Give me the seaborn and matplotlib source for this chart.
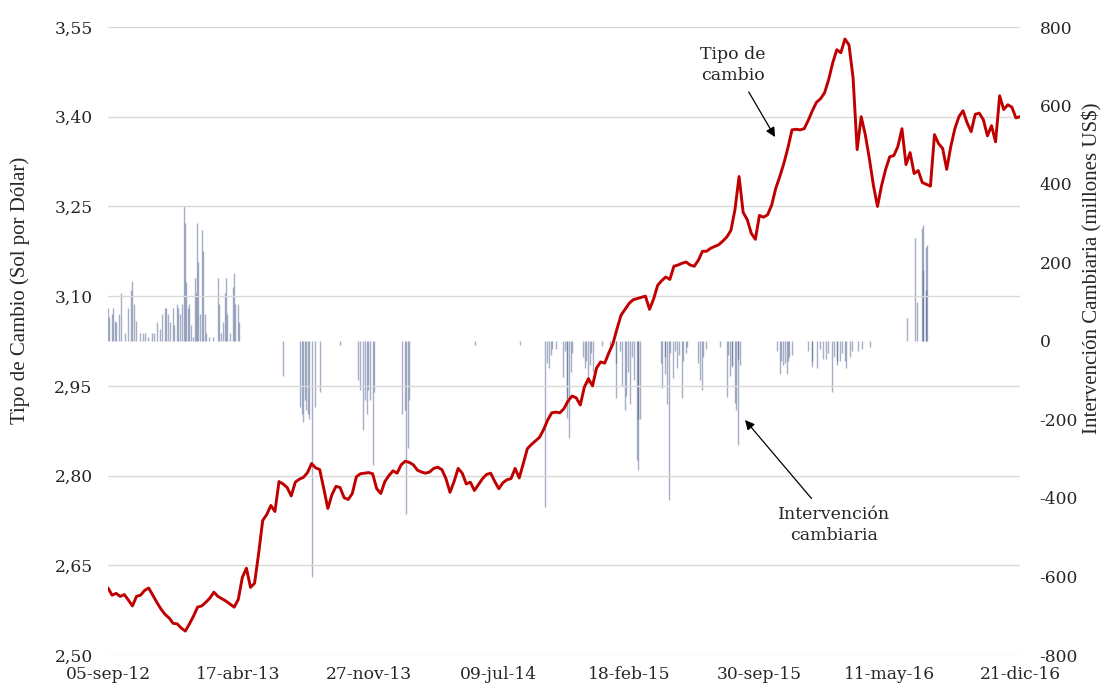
import numpy as np
import pandas as pd
import matplotlib
matplotlib.use("Agg")
import matplotlib.pyplot as plt
import seaborn as sns

# ---------------- data ----------------
rate_start = "2012-09-05"   # weekly observations
rate_values = [
    2.612, 2.600, 2.603, 2.598, 2.601, 2.592, 2.582, 2.598, 2.600, 2.608,
    2.612, 2.600, 2.588, 2.577, 2.568, 2.562, 2.553, 2.552, 2.545, 2.540,
    2.552, 2.565, 2.580, 2.582, 2.588, 2.595, 2.605, 2.598, 2.594, 2.590,
    2.585, 2.580, 2.593, 2.630, 2.645, 2.613, 2.620, 2.670, 2.725, 2.735,
    2.750, 2.740, 2.790, 2.786, 2.780, 2.766, 2.789, 2.794, 2.797, 2.805,
    2.820, 2.813, 2.810, 2.778, 2.745, 2.768, 2.782, 2.780, 2.763, 2.760,
    2.770, 2.798, 2.803, 2.804, 2.805, 2.803, 2.778, 2.770, 2.790, 2.800,
    2.808, 2.804, 2.818, 2.824, 2.822, 2.818, 2.809, 2.806, 2.804, 2.806,
    2.812, 2.814, 2.810, 2.795, 2.772, 2.790, 2.812, 2.804, 2.786, 2.789,
    2.775, 2.785, 2.795, 2.802, 2.804, 2.790, 2.778, 2.788, 2.793, 2.795,
    2.812, 2.796, 2.820, 2.845, 2.852, 2.858, 2.864, 2.877, 2.893, 2.905,
    2.906, 2.905, 2.912, 2.925, 2.933, 2.930, 2.918, 2.948, 2.962, 2.950,
    2.980, 2.990, 2.988, 3.005, 3.020, 3.045, 3.068, 3.078, 3.088, 3.094,
    3.096, 3.098, 3.100, 3.078, 3.095, 3.118, 3.126, 3.132, 3.128, 3.150,
    3.152, 3.155, 3.157, 3.152, 3.150, 3.160, 3.175, 3.175, 3.180, 3.183,
    3.186, 3.192, 3.199, 3.210, 3.245, 3.300, 3.240, 3.228, 3.205, 3.195,
    3.235, 3.232, 3.236, 3.252, 3.280, 3.300, 3.322, 3.348, 3.378, 3.379,
    3.378, 3.380, 3.394, 3.410, 3.424, 3.430, 3.440, 3.462, 3.490, 3.512,
    3.507, 3.530, 3.520, 3.465, 3.345, 3.400, 3.370, 3.330, 3.285, 3.250,
    3.285, 3.312, 3.333, 3.335, 3.350, 3.380, 3.320, 3.340, 3.305, 3.310,
    3.290, 3.287, 3.284, 3.370, 3.355, 3.347, 3.312, 3.350, 3.380, 3.400,
    3.410, 3.390, 3.375, 3.404, 3.406, 3.395, 3.368, 3.385, 3.358, 3.435,
    3.412, 3.420, 3.416, 3.398, 3.400,
]

interv_dates = [
    # 2012-2013 purchases
    "2012-09-05", "2012-09-07", "2012-09-12", "2012-09-14", "2012-09-17", "2012-09-19",
    "2012-09-24", "2012-09-27", "2012-10-04", "2012-10-09", "2012-10-15", "2012-10-16",
    "2012-10-19", "2012-10-23", "2012-10-30", "2012-11-05", "2012-11-08", "2012-11-13",
    "2012-11-19", "2012-11-23", "2012-11-28", "2012-12-03", "2012-12-07", "2012-12-12",
    "2012-12-14", "2012-12-17", "2012-12-21", "2012-12-26", "2012-12-28", "2013-01-02",
    "2013-01-04", "2013-01-07", "2013-01-10", "2013-01-14", "2013-01-15", "2013-01-17",
    "2013-01-21", "2013-01-22", "2013-01-25", "2013-01-29", "2013-02-01", "2013-02-04",
    "2013-02-05", "2013-02-07", "2013-02-11", "2013-02-14", "2013-02-15", "2013-02-18",
    "2013-02-20", "2013-02-25", "2013-03-04", "2013-03-13", "2013-03-15", "2013-03-18",
    "2013-03-22", "2013-03-25", "2013-03-27", "2013-03-29", "2013-04-03", "2013-04-08",
    "2013-04-10", "2013-04-12", "2013-04-17", "2013-04-18",
    # 2013-2014 sales
    "2013-07-03", "2013-08-01", "2013-08-05", "2013-08-06", "2013-08-09", "2013-08-12",
    "2013-08-14", "2013-08-16", "2013-08-21", "2013-08-27", "2013-09-04", "2013-10-09",
    "2013-11-08", "2013-11-12", "2013-11-18", "2013-11-21", "2013-11-25", "2013-11-26",
    "2013-11-29", "2013-12-05", "2013-12-06", "2014-01-24", "2014-01-28", "2014-01-30",
    "2014-02-03", "2014-02-05", "2014-05-29", "2014-08-14",
    # 2014-2016 sales
    "2014-09-26", "2014-09-30", "2014-10-03", "2014-10-06", "2014-10-08", "2014-10-15",
    "2014-10-27", "2014-10-31", "2014-11-03", "2014-11-04", "2014-11-07", "2014-11-10",
    "2014-11-12", "2014-12-01", "2014-12-04", "2014-12-05", "2014-12-09", "2014-12-12",
    "2014-12-15", "2014-12-18", "2015-01-02", "2015-01-16", "2015-01-26", "2015-01-27",
    "2015-02-02", "2015-02-06", "2015-02-11", "2015-02-13", "2015-02-16", "2015-02-19",
    "2015-02-23", "2015-02-27", "2015-03-04", "2015-03-05", "2015-03-06", "2015-03-09",
    "2015-04-13", "2015-04-16", "2015-04-20", "2015-04-21", "2015-04-24", "2015-04-27",
    "2015-04-30", "2015-05-04", "2015-05-07", "2015-05-11", "2015-05-14", "2015-05-20",
    "2015-05-22", "2015-05-26", "2015-05-29", "2015-06-16", "2015-06-19", "2015-06-23",
    "2015-06-25", "2015-06-30", "2015-07-24", "2015-08-05", "2015-08-07", "2015-08-10",
    "2015-08-13", "2015-08-14", "2015-08-19", "2015-08-21", "2015-08-24", "2015-08-25",
    "2015-08-28", "2015-10-30", "2015-11-04", "2015-11-06", "2015-11-09", "2015-11-13",
    "2015-11-17", "2015-11-18", "2015-11-20", "2015-11-25", "2015-12-23", "2015-12-29",
    "2015-12-30", "2016-01-07", "2016-01-12", "2016-01-18", "2016-01-22", "2016-01-26",
    "2016-02-02", "2016-02-05", "2016-02-10", "2016-02-11", "2016-02-16", "2016-02-19",
    "2016-02-24", "2016-02-26", "2016-03-03", "2016-03-07", "2016-03-18", "2016-03-25",
    "2016-04-07",
    # 2016 purchases
    "2016-06-10", "2016-06-24", "2016-06-27", "2016-07-06", "2016-07-07", "2016-07-08",
    "2016-07-12", "2016-07-13", "2016-07-14",
]
interv_values = [
    84, 60, 70, 84, 50, 48,
    70, 122, 20, 84, 130, 152,
    95, 50, 20, 20, 20, 10,
    20, 20, 48, 30, 70, 84,
    84, 70, 48, 84, 40, 95,
    84, 70, 95, 345, 300, 150,
    84, 95, 40, 10, 160, 122,
    300, 200, 70, 283, 230, 70,
    20, 10, 10, 160, 95, 20,
    48, 122, 160, 70, 20, 138,
    173, 95, 95, 48,
    -90, -168, -185, -206, -150, -175,
    -185, -200, -600, -168, -130, -10,
    -100, -125, -227, -150, -185, -125,
    -150, -316, -130, -185, -176, -440,
    -273, -150, -10, -10,
    -423, -57, -70, -35, -20, -20,
    -91, -25, -145, -195, -247, -80,
    -30, -40, -70, -50, -110, -60,
    -30, -80, -12, -20, -145, -55,
    -25, -115, -176, -140, -80, -160,
    -40, -100, -303, -329, -200, -200,
    -55, -120, -40, -85, -160, -405,
    -30, -95, -25, -70, -35, -145,
    -50, -30, -15, -57, -100, -125,
    -40, -20, -15, -142, -35, -90,
    -65, -60, -158, -176, -265, -45,
    -60, -25, -85, -50, -60, -55,
    -85, -50, -40, -35, -25, -50,
    -65, -70, -20, -45, -45, -30,
    -130, -40, -60, -50, -50, -30,
    -50, -70, -40, -25, -25, -20,
    -15,
    58, 262, 100, 288, 296, 180,
    240, 130, 245,
]

xtick_dates = ["2012-09-05", "2013-04-17", "2013-11-27", "2014-07-09",
               "2015-02-18", "2015-09-30", "2016-05-11", "2016-12-21"]
xtick_labels = ["05-sep-12", "17-abr-13", "27-nov-13", "09-jul-14",
                "18-feb-15", "30-sep-15", "11-may-16", "21-dic-16"]
left_ticks = [2.50, 2.65, 2.80, 2.95, 3.10, 3.25, 3.40, 3.55]
left_labels = ["2,50", "2,65", "2,80", "2,95", "3,10", "3,25", "3,40", "3,55"]
right_ticks = [-800, -600, -400, -200, 0, 200, 400, 600, 800]

# ---------------- plot ----------------
sns.set_style("white")
plt.rcParams["font.family"] = ["DejaVu Serif"]

fig = plt.figure(figsize=(11.04, 6.89), dpi=100)
ax1 = fig.add_axes([108 / 1104, 1 - 655 / 689, 912 / 1104, 628 / 689])
ax2 = ax1.twinx()

df_rate = pd.DataFrame({
    "fecha": pd.date_range(rate_start, periods=len(rate_values), freq="7D"),
    "tc": rate_values,
})
df_int = pd.DataFrame({"fecha": pd.to_datetime(interv_dates), "mm": interv_values})

ax2.vlines(df_int["fecha"], 0, df_int["mm"], color="#3B4E82", alpha=0.45, linewidth=1.0)
sns.lineplot(data=df_rate, x="fecha", y="tc", ax=ax1, color="#C00000", linewidth=2.1)

ax1.set_zorder(ax2.get_zorder() + 1)
ax1.patch.set_visible(False)

xmin, xmax = pd.Timestamp(xtick_dates[0]), pd.Timestamp(xtick_dates[-1])
ax1.set_xlim(xmin, xmax)
ax1.set_ylim(left_ticks[0], left_ticks[-1])
ax2.set_ylim(right_ticks[0], right_ticks[-1])

ax1.set_xticks(pd.to_datetime(xtick_dates))
ax1.set_xticklabels(xtick_labels, fontsize=12.3)
ax1.set_yticks(left_ticks)
ax1.set_yticklabels(left_labels, fontsize=12.3)
ax2.set_yticks(right_ticks)
ax2.set_yticklabels([str(v) for v in right_ticks], fontsize=12.3)

ax1.yaxis.grid(True, color="#D9D9D9", linewidth=1.0)
ax1.xaxis.grid(False)
ax2.grid(False)
ax1.tick_params(axis="y", length=0, pad=11)
ax1.tick_params(axis="x", length=0, pad=8)
ax2.tick_params(axis="y", length=0, pad=14)

for ax in (ax1, ax2):
    for s in ax.spines.values():
        s.set_visible(False)

ax1.set_xlabel("")
ax1.set_ylabel("Tipo de Cambio (Sol por Dólar)", fontsize=15, family=["Liberation Serif"])
ax1.yaxis.set_label_coords(-0.0855, 0.58)
ax2.set_ylabel("Intervención Cambiaria (millones US$)", fontsize=15, family=["Liberation Serif"])
ax2.yaxis.set_label_coords(1.069, 0.616)

ax1.annotate("Tipo de\ncambio", xy=(0.7314, 0.8248), xycoords="axes fraction",
             xytext=(0.6853, 0.9395), textcoords="axes fraction",
             ha="center", va="center", fontsize=12.5, linespacing=1.3,
             arrowprops=dict(arrowstyle="-|>", color="black", lw=0.9,
                             shrinkA=4, shrinkB=0, mutation_scale=14))
ax1.annotate("Intervención\ncambiaria", xy=(0.6985, 0.3742), xycoords="axes fraction",
             xytext=(0.796, 0.207), textcoords="axes fraction",
             ha="center", va="center", fontsize=12.5, linespacing=1.3,
             arrowprops=dict(arrowstyle="-|>", color="black", lw=0.9,
                             shrinkA=4, shrinkB=0, mutation_scale=14))

fig.savefig("out.png", dpi=100)
